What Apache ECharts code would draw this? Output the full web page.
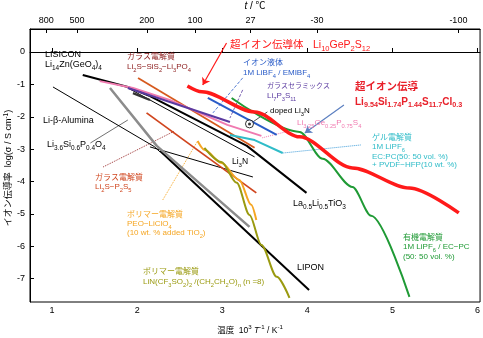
<!DOCTYPE html>
<html><head><meta charset="utf-8">
<script src="https://cdn.jsdelivr.net/npm/echarts@6/dist/echarts.min.js"></script>
<style>html,body{margin:0;padding:0;background:#fff}#c{width:483px;height:338px}</style>
</head><body><div id="c"></div>
<script>
// ---- axes ----
const xTicks = [1, 2, 3, 4, 5, 6];
const yTicks = [0, -1, -2, -3, -4, -5, -6, -7];
const topTempsC = [800, 500, 200, 100, 27, -30, -100];
const topTickLabels = ['800', '500', '200', '100', '27', '-30', '-100'];

// ---- data (x = 1000/T, y = log sigma) ----
const lgpsX = [2.59, 2.76, 3.38, 3.91, 4.53, 5.20, 5.78];
const lgpsY = [-1.05, -1.23, -1.85, -2.62, -3.58, -4.20, -4.97];
const organicX = [3.11, 3.91, 4.18, 4.53, 4.75, 5.20];
const organicY = [-1.42, -2.47, -3.30, -4.17, -5.06, -7.56];
const ionicX = [2.83, 3.64];
const ionicY = [-1.42, -2.56];
const lpsGcX = [1.89, 3.09];
const lpsGcY = [-1.11, -2.16];
const thioX = [1.56, 1.95, 2.38, 3.06, 3.46];
const thioY = [-0.90, -1.11, -1.48, -2.25, -2.59];
const gelX = [3.09, 3.38, 3.71];
const gelY = [-2.56, -2.72, -3.12];
const lssX = [2.01, 3.38];
const lssY = [-0.80, -2.96];
const lpsGlassX = [2.11, 3.40];
const lpsGlassY = [-1.88, -4.35];
const peoX = [2.71, 2.79, 2.99, 3.20, 3.34, 3.40];
const peoY = [-2.75, -3.02, -3.43, -3.95, -4.72, -5.19];
const peoTfsiX = [2.79, 2.99, 3.17, 3.32, 3.46, 3.64, 3.79];
const peoTfsiY = [-2.96, -3.40, -4.04, -5.03, -5.96, -6.94, -7.59];
const lsipoX = [1.68, 2.23, 3.32];
const lsipoY = [-1.11, -2.90, -5.40];
const betaX = [1.01, 2.07, 2.20, 2.27];
const betaY = [-1.08, -2.72, -2.92, -3.09];
const li3nX = [2.15, 3.36];
const li3nY = [-2.93, -3.86];
const liponX = [2.27, 4.02];
const liponY = [-3.06, -7.35];
const thinBlackX = [1.89, 3.38];
const thinBlackY = [-1.11, -3.24];
const lisiconX = [1.36, 1.89, 2.15];
const lisiconY = [-0.71, -1.08, -1.36];
const shortSegX = [1.95, 2.15];
const shortSegY = [-1.27, -1.48];
const lltoX = [2.15, 3.29, 3.99];
const lltoY = [-1.36, -2.90, -4.35];
const dopedLi3nX = [3.32];
const dopedLi3nY = [-2.22];

const FONT = "'Liberation Sans','Noto Sans CJK JP',sans-serif";
const zip = (xs, ys) => xs.map((x, i) => [x, ys[i]]);

function ln(xs, ys, color, width, extra) {
  return Object.assign({
    type: 'line', data: zip(xs, ys), symbol: 'none', showSymbol: false,
    lineStyle: { color: color, width: width }, silent: true, animation: false, z: 3
  }, extra || {});
}
function ptr(xs, ys, color, type, width) {
  return ln(xs, ys, color, width || 0.8, { lineStyle: { color: color, width: width || 0.8, type: type }, z: 2 });
}
function arrow(xs, ys, color) {
  return {
    type: 'line', data: [], silent: true, animation: false,
    markLine: {
      silent: true, animation: false, symbol: ['none', 'arrow'], symbolSize: 7,
      label: { show: false },
      lineStyle: { color: color, width: 1.2, type: 'solid' },
      data: [[{ coord: [xs[0], ys[0]] }, { coord: [xs[1], ys[1]] }]]
    }
  };
}

function rt(s) {
  return s.replace(/_\{([^}]*)\}/g, '{b|$1}').replace(/\^\{([^}]*)\}/g, '{p|$1}').replace(/\*([^*]*)\*/g, '{i|$1}');
}
function txt(s, x, y, color, fs, opts) {
  opts = opts || {};
  const fw = opts.bold ? 'bold' : 'normal';
  const lh = fs + 4;
  return {
    type: 'text', x: x, y: y, silent: true, z: 10, rotation: opts.rot || 0,
    style: {
      text: rt(s), fill: color, fontSize: fs, fontFamily: FONT, fontWeight: fw,
      align: opts.align || 'left', verticalAlign: 'middle', lineHeight: lh,
      rich: {
        b: { fontSize: fs * 0.72, lineHeight: fs * 0.72 + 1, verticalAlign: 'bottom', fill: color, fontFamily: FONT, fontWeight: fw },
        p: { fontSize: fs * 0.72, lineHeight: fs * 0.72 + 1, verticalAlign: 'top', fill: color, fontFamily: FONT, fontWeight: fw },
        i: { fontSize: fs, fontStyle: 'italic', fill: color, fontFamily: FONT, fontWeight: fw, lineHeight: lh }
      }
    }
  };
}

const RED = '#ff1a1a', GREEN = '#1f9a35', BLUE = '#2a5cc8', PURPLE = '#5a3aa0', PINK = '#f07ab0',
  CYAN = '#2fbcc8', BROWN = '#d65a1e', DRED = '#8b1a1a', LPSC = '#d0451e', ORANGE = '#f5a623', OLIVE = '#9a9a10', GREY = '#8c8c8c';

const topVals = topTempsC.map(t => 1000 / (t + 273.15));
const SM = { smooth: 0.3, smoothMonotone: 'x' };

const chart = echarts.init(document.getElementById('c'), null, { renderer: 'canvas' });
chart.setOption({
  animation: false,
  grid: { left: 30, right: 2, top: 29, bottom: 36, show: true, borderColor: '#000', borderWidth: 1 },
  xAxis: [
    { type: 'value', min: 0.74, max: 6.03, position: 'bottom',
      axisLine: { show: true, lineStyle: { color: '#000', width: 1 } },
      axisTick: { show: true, inside: true, length: 4, customValues: xTicks, lineStyle: { color: '#000' } },
      axisLabel: { customValues: xTicks, color: '#000', fontSize: 9, fontFamily: FONT, margin: 4 },
      splitLine: { show: false } },
    { type: 'value', min: 0.74, max: 6.03, position: 'top',
      axisLine: { show: true, lineStyle: { color: '#000', width: 1 } },
      axisTick: { show: true, inside: true, length: 4, customValues: topVals, lineStyle: { color: '#000' } },
      axisLabel: { customValues: topVals, color: '#000', fontSize: 9, fontFamily: FONT, margin: 4,
        formatter: function (v) {
          let bi = 0, bd = 1e9;
          topVals.forEach((t, i) => { const d = Math.abs(t - v); if (d < bd) { bd = d; bi = i; } });
          return topTickLabels[bi];
        } },
      splitLine: { show: false } }
  ],
  yAxis: { type: 'value', min: -7.72, max: 0.71,
    axisLine: { show: true, lineStyle: { color: '#000', width: 1 } },
    axisTick: { show: true, inside: true, length: 4, customValues: yTicks, lineStyle: { color: '#000' } },
    axisLabel: { customValues: yTicks, color: '#000', fontSize: 9, fontFamily: FONT, margin: 5 },
    splitLine: { show: false } },
  series: [
    ln(betaX, betaY, '#000', 1),
    ln(li3nX, li3nY, '#000', 1),
    ln(thinBlackX, thinBlackY, '#000', 1),
    ln(liponX, liponY, '#000', 2),
    ln(lsipoX, lsipoY, GREY, 2.5),
    ln(lisiconX, lisiconY, '#000', 2.2),
    ln(shortSegX, shortSegY, '#333', 2.2),
    ln(lltoX, lltoY, '#000', 2),
    ln(lssX, lssY, BROWN, 1.8),
    ln(lpsGlassX, lpsGlassY, LPSC, 1.8),
    ln(peoX, peoY, ORANGE, 2, SM),
    ln(peoTfsiX, peoTfsiY, OLIVE, 2, SM),
    ln(thioX, thioY, PINK, 2),
    ln(lpsGcX, lpsGcY, PURPLE, 2),
    ln(gelX, gelY, CYAN, 2),
    ln(ionicX, ionicY, BLUE, 2),
    ln(organicX, organicY, GREEN, 2, SM),
    ln(lgpsX, lgpsY, RED, 3.5, { smooth: 0.3, smoothMonotone: 'x', z: 4 }),
    // pointers
    ptr([3.24, 2.89], [-0.80, -1.88], BLUE, 'dashed'),
    ptr([3.24, 3.09], [-1.17, -2.04], PURPLE, 'dashed'),
    ptr([3.53, 3.36], [-1.85, -2.16], '#000', 'solid', 0.7),
    ptr([3.47, 3.83], [-2.65, -2.41], PINK, 'dotted', 1),
    ptr([3.71, 4.63], [-3.12, -2.87], '#3a9ad8', 'dotted', 1),
    ptr([2.30, 2.71], [-4.57, -2.75], ORANGE, 'dotted', 1),
    ptr([1.60, 2.44], [-3.55, -2.44], '#9b3030', 'dotted', 1),
    ptr([1.45, 1.89], [-2.81, -2.10], '#333', 'solid', 0.7),
    arrow([3.05, 2.77], [0.28, -1.02], RED),
    arrow([4.43, 3.97], [-1.64, -2.50], '#5b7fc0'),
    { type: 'scatter', data: zip(dopedLi3nX, dopedLi3nY), symbol: 'circle', symbolSize: 8, silent: true, z: 6,
      itemStyle: { color: '#fff', borderColor: '#000', borderWidth: 1 } },
    { type: 'scatter', data: zip(dopedLi3nX, dopedLi3nY), symbol: 'circle', symbolSize: 3, silent: true, z: 7,
      itemStyle: { color: '#000' } }
  ],
  graphic: [
    txt('*t* / ℃', 255, 6, '#000', 10, { align: 'center' }),
    txt('温度  10^{3} *T*^{-1} / K^{-1}', 250, 331, '#000', 8.5, { align: 'center' }),
    txt('イオン伝導率  log(σ / S cm^{-1})', 9, 168, '#000', 9, { align: 'center', rot: Math.PI / 2 }),
    txt('LISICON', 45, 55, '#000', 9),
    txt('Li_{14}Zn(GeO_{4})_{4}', 45, 65, '#000', 9),
    txt('ガラス電解質', 127, 57, DRED, 8),
    txt('Li_{2}S−SiS_{2}−Li_{3}PO_{4}', 127, 67, DRED, 8),
    txt('超イオン伝導体', 230, 45, RED, 10.5),
    txt('Li_{10}GeP_{2}S_{12}', 313, 45, RED, 10.5),
    txt('イオン液体', 243, 63, BLUE, 8),
    txt('1M LiBF_{4} / EMIBF_{4}', 243, 73, BLUE, 8),
    txt('ガラスセラミックス', 267, 86, PURPLE, 7),
    txt('Li_{7}P_{3}S_{11}', 267, 96, PURPLE, 8),
    txt('doped Li_{3}N', 270, 111, '#000', 8),
    txt('Li_{3.25}Ge_{0.25}P_{0.75}S_{4}', 297, 123, PINK, 8),
    txt('超イオン伝導', 355, 87, '#e8202a', 10.5, { bold: true }),
    txt('Li_{9.54}Si_{1.74}P_{1.44}S_{11.7}Cl_{0.3}', 355, 102, '#e8202a', 10, { bold: true }),
    txt('ゲル電解質', 372, 138, CYAN, 8),
    txt('1M LiPF_{6}', 372, 147, CYAN, 8),
    txt('EC:PC(50: 50 vol. %)', 372, 157, CYAN, 8),
    txt('+ PVDF−HFP(10 wt. %)', 372, 165, CYAN, 8),
    txt('有機電解質', 403, 238, GREEN, 8),
    txt('1M LiPF_{6} / EC−PC', 403, 247, GREEN, 8),
    txt('(50: 50 vol. %)', 403, 257, GREEN, 8),
    txt('LIPON', 297, 268, '#000', 9),
    txt('La_{0.5}Li_{0.5}TiO_{3}', 293, 204, '#000', 9),
    txt('Li_{3}N', 232, 162, '#000', 8.5),
    txt('Li-β-Alumina', 43, 121, '#000', 9),
    txt('Li_{3.6}Si_{0.6}P_{0.4}O_{4}', 47, 145, '#000', 9),
    txt('ガラス電解質', 95, 178, LPSC, 8),
    txt('Li_{2}S−P_{2}S_{5}', 95, 187, LPSC, 8),
    txt('ポリマー電解質', 127, 215, ORANGE, 8),
    txt('PEO−LiClO_{4}', 127, 224, ORANGE, 8),
    txt('(10 wt. % added TiO_{2})', 127, 233, ORANGE, 8),
    txt('ポリマー電解質', 143, 272, OLIVE, 8),
    txt('LiN(CF_{3}SO_{2})_{2} /(CH_{2}CH_{2}O)_{n} (n =8)', 143, 282, OLIVE, 8)
  ]
});
</script>
</body></html>
